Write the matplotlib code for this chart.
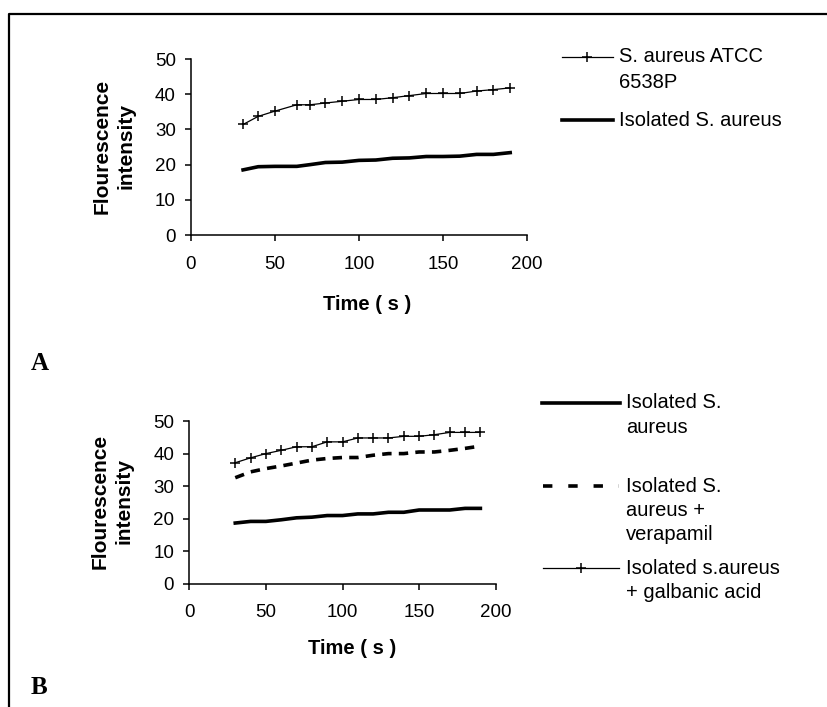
import matplotlib
matplotlib.use("Agg")
import matplotlib.pyplot as plt
from matplotlib.lines import Line2D

plt.rcParams["font.family"] = ["Liberation Sans", "DejaVu Sans"]

# panel A data
time_a = [31, 40, 50, 63, 71, 80, 90, 100, 110, 120, 130, 140, 150, 160, 170, 180, 190]
atcc = [31.4, 33.7, 35.2, 37.0, 37.0, 37.5, 38.0, 38.5, 38.5, 39.0, 39.6, 40.2, 40.2, 40.2, 40.9, 41.3, 41.8]
isolated_a = [18.5, 19.4, 19.5, 19.5, 20.0, 20.6, 20.7, 21.2, 21.3, 21.8, 21.9, 22.3, 22.3, 22.4, 22.9, 22.9, 23.4]

# panel B data
time_b = [30, 40, 50, 60, 70, 80, 90, 100, 110, 120, 130, 140, 150, 160, 170, 180, 190]
isolated_b = [18.7, 19.2, 19.2, 19.7, 20.3, 20.5, 21.0, 21.0, 21.5, 21.5, 22.0, 22.0, 22.7, 22.7, 22.7, 23.2, 23.2]
verapamil = [32.6, 34.4, 35.4, 36.2, 37.1, 38.0, 38.5, 38.8, 38.8, 39.5, 40.0, 40.0, 40.5, 40.5, 41.0, 41.6, 42.3]
galbanic = [37.2, 38.7, 40.0, 41.0, 42.1, 42.1, 43.6, 43.6, 44.8, 44.8, 44.8, 45.3, 45.3, 45.8, 46.5, 46.5, 46.5]

x_ticks = [0, 50, 100, 150, 200]
y_ticks = [0, 10, 20, 30, 40, 50]

W, H = 827, 707
fig = plt.figure(figsize=(W / 100, H / 100), dpi=100)
LEG_FS = 14.5


def fx(px):
    return px / W


def fy(py):
    return 1 - py / H


def style_axes(ax, xpad):
    ax.set_xlim(0, 200)
    ax.set_ylim(0, 50)
    ax.set_xticks(x_ticks)
    ax.set_yticks(y_ticks)
    for s in ["top", "right"]:
        ax.spines[s].set_visible(False)
    for s in ["left", "bottom"]:
        ax.spines[s].set_linewidth(1.1)
    ax.tick_params(axis="both", direction="out", length=4, width=1.1, labelsize=13.5)
    ax.tick_params(axis="x", pad=xpad)
    ax.tick_params(axis="y", pad=7)


# ---- panel A ----
ax1 = fig.add_axes([fx(191), fy(235), fx(527) - fx(191), fy(59) - fy(235)])
ax1.plot(time_a, atcc, color="black", lw=0.9, marker="+", ms=7, mew=1.1, clip_on=False)
ax1.plot(time_a, isolated_a, color="black", lw=2.6, clip_on=False)
style_axes(ax1, 11)
fig.text(fx(114), fy(146), "Flourescence\nintensity", rotation=90, fontsize=15,
         fontweight="bold", ha="center", va="center", linespacing=1.35)
fig.text(fx(367), fy(305), "Time ( s )", fontsize=14.5, fontweight="bold",
         ha="center", va="center")

# legend A
fig.add_artist(Line2D([fx(562), fx(613)], [fy(57), fy(57)], color="black", lw=0.9))
fig.add_artist(Line2D([fx(587)], [fy(57)], color="black", marker="+", ms=7, mew=1.1))
fig.text(fx(619), fy(57), "S. aureus ATCC", fontsize=LEG_FS, ha="left", va="center")
fig.text(fx(619), fy(83), "6538P", fontsize=LEG_FS, ha="left", va="center")
fig.add_artist(Line2D([fx(562), fx(613)], [fy(120), fy(120)], color="black", lw=2.6))
fig.text(fx(619), fy(120), "Isolated S. aureus", fontsize=LEG_FS, ha="left", va="center")

fig.text(fx(40), fy(363), "A", fontsize=18, fontweight="bold",
         family="Liberation Serif", ha="center", va="center")

# ---- panel B ----
ax2 = fig.add_axes([fx(189.3), fy(584), fx(495.7) - fx(189.3), fy(421) - fy(584)])
ax2.plot(time_b, isolated_b, color="black", lw=2.6, clip_on=False)
ax2.plot(time_b, verapamil, color="black", lw=2.6, dashes=(2.6, 2.0), clip_on=False)
ax2.plot(time_b, galbanic, color="black", lw=0.9, marker="+", ms=7, mew=1.1, clip_on=False)
style_axes(ax2, 10.5)
fig.text(fx(112), fy(501), "Flourescence\nintensity", rotation=90, fontsize=15,
         fontweight="bold", ha="center", va="center", linespacing=1.35)
fig.text(fx(352), fy(649), "Time ( s )", fontsize=14.5, fontweight="bold",
         ha="center", va="center")

# legend B
fig.add_artist(Line2D([fx(542), fx(620)], [fy(403), fy(403)], color="black", lw=2.6))
for i, t in enumerate(["Isolated S.", "aureus"]):
    fig.text(fx(626), fy(403 + 24.5 * i), t, fontsize=LEG_FS, ha="left", va="center")
fig.add_artist(Line2D([fx(543), fx(619)], [fy(486), fy(486)], color="black", lw=2.6,
                      dashes=(2.6, 4.4)))
for i, t in enumerate(["Isolated S.", "aureus +", "verapamil"]):
    fig.text(fx(626), fy(486 + 24.5 * i), t, fontsize=LEG_FS, ha="left", va="center")
fig.add_artist(Line2D([fx(543), fx(619)], [fy(568), fy(568)], color="black", lw=0.9))
fig.add_artist(Line2D([fx(581)], [fy(568)], color="black", marker="+", ms=7, mew=1.1))
for i, t in enumerate(["Isolated s.aureus", "+ galbanic acid"]):
    fig.text(fx(626), fy(568 + 24.5 * i), t, fontsize=LEG_FS, ha="left", va="center")

fig.text(fx(39), fy(687), "B", fontsize=18, fontweight="bold",
         family="Liberation Serif", ha="center", va="center")

# outer frame (left and top edges visible)
fig.add_artist(Line2D([fx(9), fx(9), fx(827)], [fy(707), fy(14), fy(14)],
                      color="black", lw=1.6))

fig.savefig("out.png", dpi=100)
